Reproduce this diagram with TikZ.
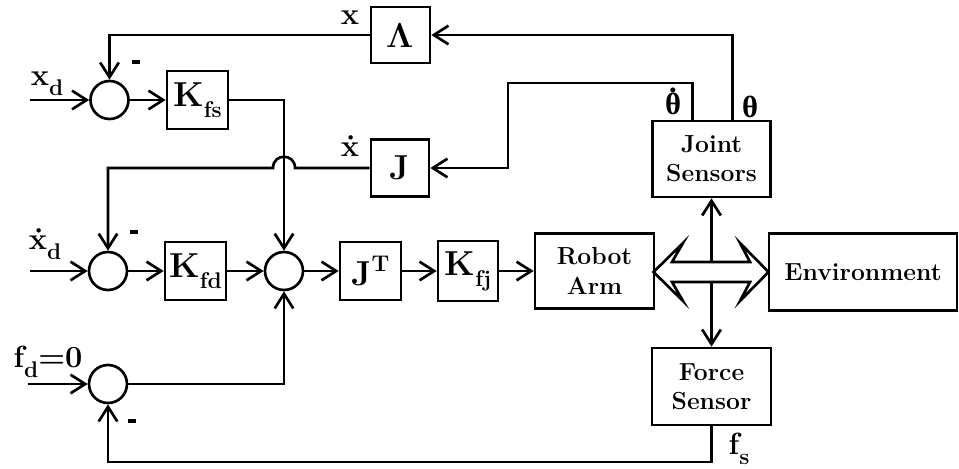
\documentclass[tikz,border=0pt]{standalone}
\usepackage{fontspec}
\newfontfamily\grk{Liberation Serif}
\newcommand\mysub[1]{\raisebox{-0.32em}{\fontsize{17}{17}\selectfont\bfseries #1}}
\newcommand\mysup[1]{\raisebox{0.42em}{\fontsize{17}{17}\selectfont\bfseries #1}}
\newcommand\dotth{\ooalign{θ\cr\hidewidth\raisebox{0.72em}{.}\hidewidth\cr}}
\usetikzlibrary{arrows.meta,calc}
\begin{document}
\begin{tikzpicture}[x=0.75pt,y=-0.75pt,
  blk/.style={draw, line width=2pt, inner sep=0pt, align=center,
    font=\fontsize{18.5}{22}\selectfont\bfseries},
  mblk/.style={draw, line width=2pt, inner sep=0pt,
    font=\fontsize{26}{30}\selectfont\bfseries},
  sumc/.style={draw, circle, line width=2pt, minimum size=28.5pt, inner sep=0pt},
  lab/.style={inner sep=0pt, font=\fontsize{23}{26}\selectfont\bfseries},
  neg/.style={inner sep=0pt},
  conn/.style={line width=2pt, -{Straight Barb[length=11pt,width=14pt]}},
  plain/.style={line width=2pt}
]
\useasboundingbox (0,0) rectangle (959,468);

% blocks
\node[mblk, minimum width=44.25pt, minimum height=42pt] (Lam) at (400.5,35) {Λ};
\node[mblk, minimum width=45.75pt, minimum height=43.5pt] (Kfs) at (197.5,100) {K\mysub{fs}};
\node[mblk, minimum width=43.5pt, minimum height=42.75pt] (J) at (400,168) {J};
\node[blk, minimum width=88.5pt, minimum height=57pt] (JS) at (711.5,159) {Joint\\Sensors};
\node[mblk, minimum width=45.75pt, minimum height=43.5pt] (Kfd) at (195.5,271) {K\mysub{fd}};
\node[mblk, minimum width=45.75pt, minimum height=43.5pt] (JT) at (370.5,271) {J\mysup{T}};
\node[mblk, minimum width=45pt, minimum height=45pt] (Kfj) at (468,271) {K\mysub{fj}};
\node[blk, minimum width=89.25pt, minimum height=56.25pt] (RA) at (594.5,271) {Robot\\Arm};
\node[blk, minimum width=141pt, minimum height=57.75pt] (Env) at (863,272) {Environment};
\node[blk, minimum width=89.25pt, minimum height=57.75pt] (FS) at (711.5,386.5) {Force\\Sensor};

% summing junctions
\node[sumc] (s1) at (109.5,100) {};
\node[sumc] (s2) at (108,271) {};
\node[sumc] (s3) at (284,271) {};
\node[sumc] (s4) at (108,384) {};

% free ends
\coordinate (xdin) at (30,100);
\coordinate (xddin) at (30,271);
\coordinate (fdin) at (28,384);
\coordinate (c1) at (508,83);
\coordinate (hopR) at (295,168);
\coordinate (hopL) at (273,168);
\coordinate (shT) at (711.5,262);
\coordinate (shB) at (711.5,282);
\coordinate (fsC) at (108,462);

% connectors
\draw[conn] (xdin) -- (s1.west);
\draw[conn] (s1.east) -- (Kfs.west);
\draw[conn] (Kfs.east) -| (s3.north);
\draw[conn] ($(JS.north)+(21,0)$) |- (Lam.east);
\draw[conn] (Lam.west) -| (s1.north);
\draw[conn] ($(JS.north)+(-19,0)$) |- (c1) |- (J.east);
\draw[conn] (J.west) -- (hopR) .. controls +(0,-15) and +(0,-15) .. (hopL) -| (s2.north);
\draw[conn] (xddin) -- (s2.west);
\draw[conn] (s2.east) -- (Kfd.west);
\draw[conn] (Kfd.east) -- (s3.west);
\draw[conn] (s3.east) -- (JT.west);
\draw[conn] (JT.east) -- (Kfj.west);
\draw[conn] (Kfj.east) -- (RA.west);
\draw[conn] (fdin) -- (s4.west);
\draw[conn] (s4.east) -| (s3.south);
\draw[conn] (FS.south) |- (fsC) -- (s4.south);
\draw[conn] (shT) -- (JS.south);
\draw[conn] (shB) -- (FS.north);

% double arrow between arm and environment
\draw[plain, line join=miter] (653.5,272) -- (683,243) -- (672,262) -- (750,262) -- (740,243)
  -- (768.5,272) -- (740,301) -- (750,282) -- (672,282) -- (683,301) -- cycle;

% labels
\node[lab] (lx) at (350,18) {x};
\node[lab] (lxd) at (47,84) {x\mysub{d}};
\node[neg] (m1) at (136,62) {\rule{6pt}{2.4pt}};
\node[lab] (lxdot) at (350,146) {\.x};
\node[lab] (lthd) at (673,104) {\grk\dotth};
\node[lab] (lth) at (750,107) {\grk θ};
\node[lab] (lxdd) at (45,244) {\.x\mysub{d}};
\node[neg] (m2) at (134,232) {\rule{6pt}{2.4pt}};
\node[lab] (lfd) at (48,362) {f\mysub{d}=0};
\node[neg] (m4) at (132,421) {\rule{6pt}{2.4pt}};
\node[lab] (lfs) at (739,449) {f\mysub{s}};
\end{tikzpicture}
\end{document}
